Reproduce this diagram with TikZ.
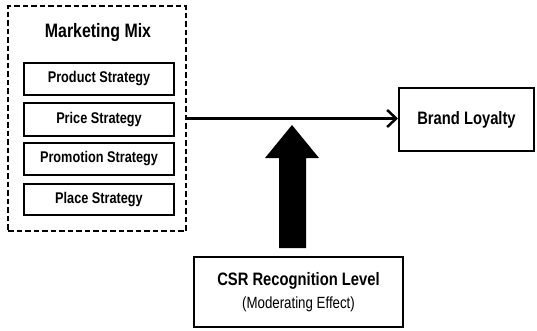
\documentclass[tikz,border=0pt]{standalone}
\usepackage{fontspec}
\setmainfont[FakeStretch=0.82]{Liberation Sans}
\usetikzlibrary{arrows.meta}
\begin{document}
\begin{tikzpicture}[x=1pt,y=-1pt,
  box/.style={draw=black,line width=2pt,rectangle,inner sep=0pt,fill=white},
  strat/.style={box,minimum width=150pt,font=\fontsize{15.5}{18}\selectfont\bfseries},
  conn/.style={line width=2.5pt,-{Straight Barb[length=9pt,width=17pt,line width=2.5pt]}},
  blockarrow/.style={fill=black,draw=none}]
\useasboundingbox (0,0) rectangle (537,330);
\node[box,dashed,dash pattern=on 5.5pt off 3pt,minimum width=178pt,minimum height=225pt] (mm) at (97,118.5) {};
\node[font=\fontsize{19.4}{22}\selectfont\bfseries] (title) at (98,33) {Marketing Mix};
\node[strat,minimum height=32pt] (p1) at (99,79) {Product Strategy};
\node[strat,minimum height=33pt] (p2) at (99,119.5) {Price Strategy};
\node[strat,minimum height=32pt] (p3) at (99,159) {Promotion Strategy};
\node[strat,minimum height=31pt] (p4) at (99,199.5) {Place Strategy};
\node[box,minimum width=135pt,minimum height=63pt,font=\fontsize{18}{20}\selectfont\bfseries] (bl) at (466.5,119.5) {Brand Loyalty};
\node[box,minimum width=209pt,minimum height=70pt,align=center,font=\fontsize{18}{23}\selectfont] (csr) at (298.5,292)
  {\textbf{CSR Recognition Level}\\{\fontsize{16.2}{23}\selectfont (Moderating Effect)}};
\draw[conn] (mm.east) -- (mm.east -| bl.west);
\fill[blockarrow] (279,248) -- (279,158) -- (265,158) -- (292,125) -- (319,158) -- (306,158) -- (306,248) -- cycle;
\end{tikzpicture}
\end{document}
